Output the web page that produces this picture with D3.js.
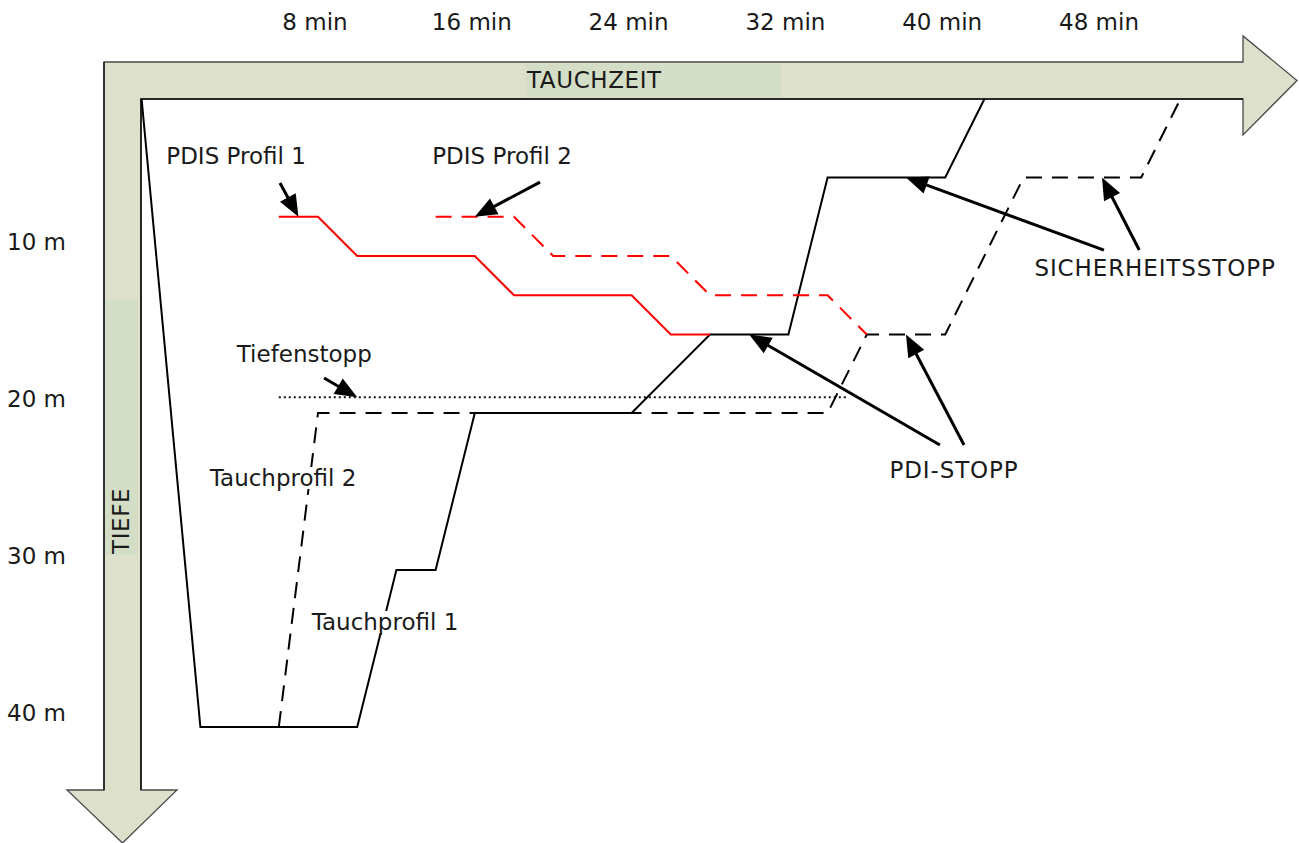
<!DOCTYPE html>
<html>
<head>
<meta charset="utf-8">
<script src="https://cdn.jsdelivr.net/npm/d3@7"></script>
<style>
  html, body { margin: 0; padding: 0; background: #ffffff; }
  svg { display: block; }
  text { font-family: "DejaVu Sans", sans-serif; fill: #1a1a1a; }
</style>
</head>
<body>
<svg id="chart" width="1299" height="843"></svg>
<script>
// ---------- data (time in minutes, depth in metres) ----------
const timeTicks = [8, 16, 24, 32, 40, 48];
const timeTickLabels = ["8 min", "16 min", "24 min", "32 min", "40 min", "48 min"];
const depthTicks = [10, 20, 30, 40];
const depthTickLabels = ["10 m", "20 m", "30 m", "40 m"];

const profile1 = [[-1, 0], [2, 40], [10, 40], [12, 30], [14, 30], [16, 20], [24, 20],
                  [28, 15], [32, 15], [34, 5], [40, 5], [42, 0]];
const profile2 = [[-1, 0], [2, 40], [6, 40], [8, 20], [34, 20], [36, 15], [40, 15],
                  [44, 5], [50, 5], [52, 0]];
const pdis1 = [[6, 7.5], [8, 7.5], [10, 10], [16, 10], [18, 12.5], [24, 12.5], [26, 15], [28, 15]];
const pdis2 = [[14, 7.5], [18, 7.5], [20, 10], [26, 10], [28, 12.5], [34, 12.5], [36, 15]];
const deepStop = [[6, 19], [35, 19]];

const labelTexts = ["PDIS Profil 1", "PDIS Profil 2", "Tiefenstopp", "Tauchprofil 2",
                    "Tauchprofil 1", "PDI-STOPP", "SICHERHEITSSTOPP"];
const labelAnchors = [[3.82, 3.64], [17.39, 3.64], [7.3, 16.24], [6.22, 24.14],
                      [11.42, 33.31], [40.45, 23.63], [50.71, 10.76]];
const labelBackground = [false, false, false, true, true, false, false];

// annotation arrows: [from, to] in (minutes, metres)
const arrowFrom = [[6.06, 5.35], [19.33, 5.29], [8.31, 17.77], [39.73, 22.04],
                   [40.96, 22.04], [48.1, 9.62], [49.9, 9.62]];
const arrowTo   = [[7, 7.5], [16, 7.5], [10, 19], [30, 15], [38, 15], [38, 5], [48, 5]];

// ---------- layout ----------
const FS = 23;
const svg = d3.select("#chart");
const x = d3.scaleLinear().domain([0, 48]).range([161.2, 1102]);
const y = d3.scaleLinear().domain([0, 40]).range([99, 727]);
const line = d3.line().x(d => x(d[0])).y(d => y(d[1]));
const isCaps = s => s === s.toUpperCase();

// axis arrows (L shape with two arrowheads)
const shaftTop = 62, shaftBottom = 99, shaftLeft = 104, shaftRight = 141;
const headX = 1243, headTip = 1297, headTop = 36, headBottom = 135;
const vHeadY = 790, vHeadLeft = 67, vHeadRight = 177, vTip = 843;
const arrowPts = [
  [shaftLeft, shaftTop], [headX, shaftTop], [headX, headTop], [headTip, (shaftTop + shaftBottom) / 2],
  [headX, headBottom], [headX, shaftBottom], [shaftRight, shaftBottom], [shaftRight, vHeadY],
  [vHeadRight, vHeadY], [(shaftLeft + shaftRight) / 2, vTip], [vHeadLeft, vHeadY], [shaftLeft, vHeadY]
];
svg.append("path")
  .attr("d", "M" + arrowPts.map(p => p.join(",")).join("L") + "Z")
  .attr("fill", "#dde1cc")
  .attr("stroke", "#4a4a4a")
  .attr("stroke-width", 1.3)
  .attr("stroke-linejoin", "miter");
svg.append("path")
  .attr("d", `M${shaftRight},${vHeadY}L${shaftRight},${shaftBottom}L${headX},${shaftBottom}`)
  .attr("fill", "none").attr("stroke", "#111").attr("stroke-width", 1.6);
svg.append("path")
  .attr("d", `M${shaftLeft},${shaftTop}L${shaftLeft},${vHeadY}`)
  .attr("fill", "none").attr("stroke", "#111").attr("stroke-width", 1.4);

// axis title boxes
svg.append("rect").attr("x", 526).attr("y", 64).attr("width", 255).attr("height", 33).attr("fill", "#d4dec6");
svg.append("text").attr("x", 527).attr("y", 88).attr("font-size", FS)
  .attr("letter-spacing", 0.6).text("TAUCHZEIT");
svg.append("rect").attr("x", 105).attr("y", 300).attr("width", 33).attr("height", 255).attr("fill", "#d4dec6");
svg.append("text").attr("transform", "translate(129,554) rotate(-90)").attr("font-size", FS)
  .attr("letter-spacing", 0.6).text("TIEFE");

// tick labels
svg.append("g").selectAll("text").data(timeTicks).join("text")
  .attr("x", d => x(d) - 3)
  .attr("y", 30)
  .attr("text-anchor", "middle")
  .attr("font-size", FS)
  .text((d, i) => timeTickLabels[i]);
svg.append("g").selectAll("text").data(depthTicks).join("text")
  .attr("x", 7)
  .attr("y", d => y(d) - 6)
  .attr("font-size", FS)
  .text((d, i) => depthTickLabels[i]);

// profiles
svg.append("path").datum(deepStop).attr("d", line)
  .attr("fill", "none").attr("stroke", "#111").attr("stroke-width", 2).attr("stroke-dasharray", "2,3");
// profile 2 shares its descent with profile 1; draw only the part after they part ways
svg.append("path").datum(profile2.slice(2)).attr("d", line)
  .attr("fill", "none").attr("stroke", "#000").attr("stroke-width", 2).attr("stroke-dasharray", "16,10");
svg.append("path").datum(profile1).attr("d", line)
  .attr("fill", "none").attr("stroke", "#000").attr("stroke-width", 2);
svg.append("path").datum(pdis1).attr("d", line)
  .attr("fill", "none").attr("stroke", "#ff0000").attr("stroke-width", 2);
svg.append("path").datum(pdis2).attr("d", line)
  .attr("fill", "none").attr("stroke", "#ff0000").attr("stroke-width", 2).attr("stroke-dasharray", "16,10");

// labels
const lg = svg.append("g");
labelTexts.forEach((t, i) => {
  const g = lg.append("g");
  const txt = g.append("text")
    .attr("x", x(labelAnchors[i][0]))
    .attr("y", y(labelAnchors[i][1]) + 8)
    .attr("text-anchor", "middle")
    .attr("font-size", FS)
    .attr("letter-spacing", isCaps(t) ? 0.9 : 0)
    .text(t);
  if (labelBackground[i]) {
    const bb = txt.node().getBBox();
    g.insert("rect", "text")
      .attr("x", bb.x - 2).attr("y", bb.y + 2)
      .attr("width", bb.width + 4).attr("height", bb.height - 4)
      .attr("fill", "#ffffff");
  }
});

// annotation arrows
const headLen = 22, headHalf = 9;
arrowFrom.forEach((f, i) => {
  const x1 = x(f[0]), y1 = y(f[1]);
  const x2 = x(arrowTo[i][0]), y2 = y(arrowTo[i][1]);
  const dx = x2 - x1, dy = y2 - y1, len = Math.hypot(dx, dy);
  const ux = dx / len, uy = dy / len;
  const bx = x2 - ux * headLen, by = y2 - uy * headLen;
  svg.append("line")
    .attr("x1", x1).attr("y1", y1).attr("x2", bx + ux * 2).attr("y2", by + uy * 2)
    .attr("stroke", "#000").attr("stroke-width", 3);
  svg.append("path")
    .attr("d", `M${x2},${y2}L${bx - uy * headHalf},${by + ux * headHalf}L${bx + uy * headHalf},${by - ux * headHalf}Z`)
    .attr("fill", "#000");
});
</script>
</body>
</html>
